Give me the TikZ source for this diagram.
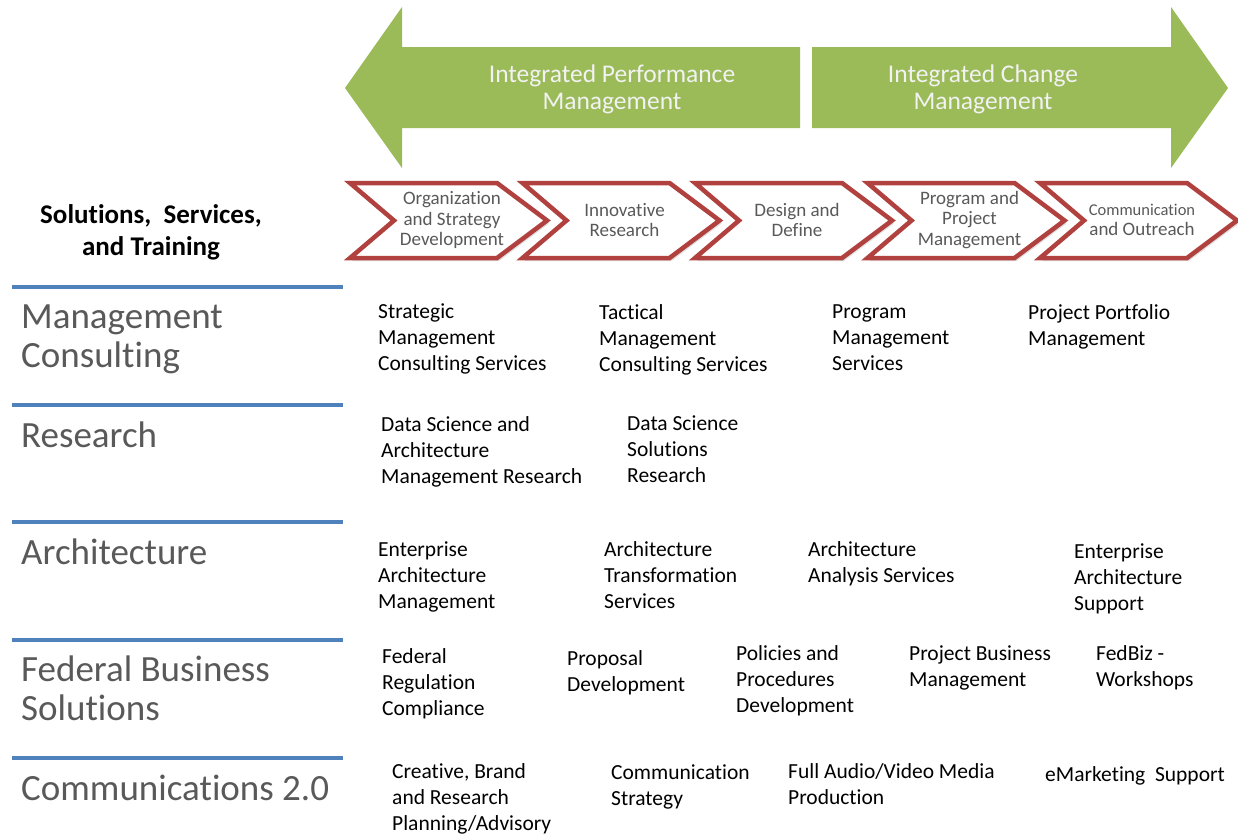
\documentclass[tikz,border=0pt]{standalone}
\usepackage{fontspec}
\setmainfont{Carlito}[Ligatures=NoCommon]
\usetikzlibrary{shadows}
\definecolor{arrowgreen}{HTML}{9BBB59}
\definecolor{chevred}{HTML}{B0413E}
\definecolor{ruleblue}{HTML}{4F81BD}
\definecolor{labgray}{HTML}{595959}
\begin{document}
\begin{tikzpicture}[x=1pt,y=-1pt]
  \tikzstyle{item}=[anchor=north west,inner sep=0,align=left,font=\fontsize{21.5}{26}\selectfont,execute at begin node=\strut]
  \tikzstyle{area}=[anchor=north west,inner sep=0,align=left,text=labgray,font=\fontsize{37}{39}\selectfont,execute at begin node=\strut]
  \tikzstyle{band}=[anchor=north,inner sep=0,align=center,text=white!95!black,font=\fontsize{25.5}{27}\selectfont,execute at begin node=\strut]
  \tikzstyle{chev}=[draw=chevred,line width=4.5pt,fill=white,line join=miter,
                    drop shadow={shadow xshift=2pt,shadow yshift=-3pt,opacity=0.25}]
  \tikzstyle{phase}=[inner sep=0,align=center,text=labgray,font=\fontsize{19}{20.5}\selectfont]
  \tikzstyle{rule}=[draw=ruleblue,line width=3.5pt]
  \useasboundingbox (0,0) rectangle (1238,835);
  % green band arrows
  \fill[arrowgreen] (345,88) -- (402,7) -- (402,47) -- (800,47) -- (800,128)
    -- (402,128) -- (402,168) -- cycle;
  \fill[arrowgreen] (1228,88) -- (1171,7) -- (1171,47) -- (812,47) -- (812,128)
    -- (1171,128) -- (1171,168) -- cycle;
  \node[band] (perf) at (612,65) {Integrated Performance\\Management};
  \node[band] (change) at (983,65) {Integrated Change\\Management};
  % chevrons
  \foreach \i/\t in {0/{Organization\\and Strategy\\Development},1/{Innovative\\Research},
                     2/{Design and\\Define},3/{Program and\\Project\\Management},
                     4/{{\fontsize{16.5}{20.5}\selectfont Communication}\\and Outreach}}{
    \pgfmathsetmacro\xo{347+172.5*\i}
    \path[chev] (\xo+3,183) -- (\xo+150,183) -- (\xo+200,220.5) -- (\xo+150,258)
      -- (\xo+3,258) -- (\xo+47,220.5) -- cycle;
    \node[phase] (phase\i) at (\xo+105,220) {\t};
  }
  \node[anchor=north,inner sep=0,align=center,font=\bfseries\fontsize{27}{32}\selectfont,
        execute at begin node=\strut] (head) at (151,204) {Solutions,\ \ Services,\\and Training};
  % rows
  \foreach \y in {287,405,522,640,758}
    \draw[rule] (12,\y) -- (343,\y);
  \node[area] (mc) at (21,305) {Management\\Consulting};
  \node[area] (res) at (21,420) {Research};
  \node[area] (arch) at (21,537) {Architecture};
  \node[area] (fbs) at (21,656) {Federal Business\\Solutions};
  \node[area] (comm) at (21,773) {Communications 2.0};
  % management consulting
  \node[item] (mc1) at (378,304) {Strategic\\Management\\Consulting Services};
  \node[item] (mc2) at (599,304) {Tactical\\Management\\Consulting Services};
  \node[item] (mc3) at (832,304) {Program\\Management\\Services};
  \node[item] (mc4) at (1028,304) {Project Portfolio\\Management};
  % research
  \node[item] (res1) at (381,416) {Data Science and\\Architecture\\Management Research};
  \node[item] (res2) at (627,416) {Data Science\\Solutions\\Research};
  % architecture
  \node[item] (arch1) at (378,541) {Enterprise\\Architecture\\Management};
  \node[item] (arch2) at (604,541) {Architecture\\Transformation\\Services};
  \node[item] (arch3) at (808,541) {Architecture\\Analysis Services};
  \node[item] (arch4) at (1074,543) {Enterprise\\Architecture\\Support};
  % federal business solutions
  \node[item] (fbs1) at (382,648) {Federal\\Regulation\\Compliance};
  \node[item] (fbs2) at (567,650) {Proposal\\Development};
  \node[item] (fbs3) at (736,645) {Policies and\\Procedures\\Development};
  \node[item] (fbs4) at (909,645) {Project Business\\Management};
  \node[item] (fbs5) at (1096,645) {FedBiz -\\Workshops};
  % communications
  \node[item] (comm1) at (392,763) {Creative, Brand\\and Research\\Planning/Advisory};
  \node[item] (comm2) at (611,764) {Communication\\Strategy};
  \node[item] (comm3) at (788,763) {Full Audio/Video Media\\Production};
  \node[item] (comm4) at (1045,763) {eMarketing\ \ Support};
\end{tikzpicture}
\end{document}
